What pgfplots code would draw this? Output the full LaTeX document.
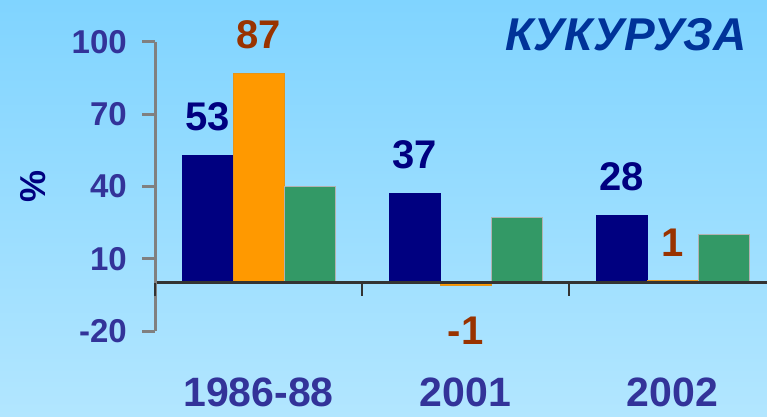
\documentclass[border=0pt]{standalone}
\usepackage{pgfplots}
\pgfplotsset{compat=1.18}
\usepackage{fontspec}
\setmainfont{Liberation Sans}
\definecolor{bgtop}{RGB}{128,212,255}
\definecolor{bgbot}{RGB}{178,230,255}
\definecolor{navyc}{RGB}{0,0,128}
\definecolor{orangebar}{RGB}{255,153,0}
\definecolor{greenbar}{RGB}{51,153,102}
\definecolor{brownlab}{RGB}{153,51,0}
\definecolor{ticklab}{RGB}{51,51,153}
\definecolor{titlec}{RGB}{0,51,153}
\definecolor{axgray}{RGB}{128,128,128}
\definecolor{axdark}{RGB}{51,51,51}
\begin{document}
\begin{tikzpicture}
\useasboundingbox (0,0) rectangle (767pt,416pt);
\shade[top color=bgtop, bottom color=bgbot] (0,0) rectangle (767pt,416pt);
\begin{axis}[
  at={(155pt,85pt)}, anchor=south west,
  x=207pt, y=2.41pt,
  xmin=-0.5, xmax=2.457, ymin=-20, ymax=100,
  axis y line*=left, axis x line*=middle,
  axis on top,
  /pgf/number format/assume math mode=true,
  ybar=0pt, bar width=51pt,
  ytick={-20,10,40,70,100},
  yticklabels={-20,10,40,70,100},
  xtick={0,1,2},
  xticklabels={1986-88,2001,2002},
  major tick length=13pt,
  tick align=outside,
  y axis line style={draw=axgray, line width=3pt},
  x axis line style={draw=axdark, line width=3pt},
  ytick style={draw=axgray, line width=3pt},
  xtick style={draw=none},
  extra x ticks={-0.5,0.5,1.5},
  extra x tick labels={},
  extra x tick style={xtick style={draw=axdark, line width=2.5pt}},
  yticklabel style={font=\bfseries\fontsize{33}{33}\selectfont, text=ticklab, inner sep=0pt, xshift=-15pt},
  xticklabel style={font=\bfseries\fontsize{41}{41}\selectfont, text=ticklab, inner sep=0pt, yshift=-82pt},
  ylabel={\%},
  ylabel style={at={(axis description cs:-0.199,0.5)}, anchor=center, font=\bfseries\fontsize{36}{36}\selectfont, text=navyc},
  visualization depends on={y \as \rawy},
  every node near coord/.append style={font=\bfseries\fontsize{40}{40}\selectfont, inner xsep=0pt, inner ysep=24pt, yshift={\rawy<0 ? -7 : 0}},
]
\addplot[fill=navyc, draw=navyc, nodes near coords, every node near coord/.append style={text=navyc}]
  coordinates {(0,53) (1,37) (2,28)};
\addplot[fill=orangebar, draw=orangebar!80!gray, line width=0.6pt, nodes near coords, every node near coord/.append style={text=brownlab}]
  coordinates {(0,87) (1,-1) (2,1)};
\addplot[fill=greenbar, draw=gray!60, line width=0.6pt]
  coordinates {(0,40) (1,27) (2,20)};
\end{axis}
\node[font=\bfseries\itshape\fontsize{46}{46}\selectfont, text=titlec] at (626pt,381pt) {КУКУРУЗА};
\end{tikzpicture}
\end{document}
